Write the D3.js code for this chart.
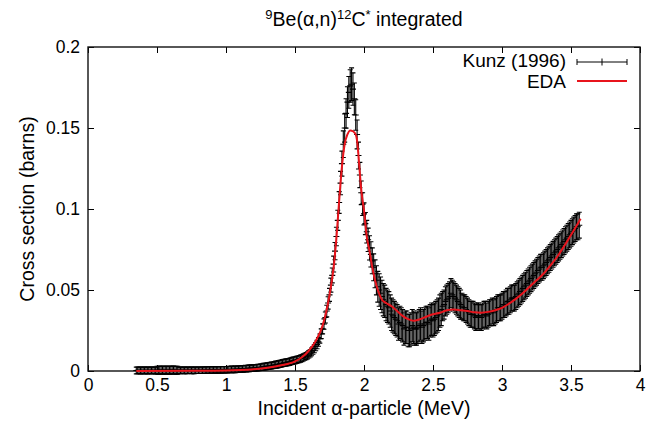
<!DOCTYPE html>
<html>
<head>
<meta charset="UTF-8">
<script src="https://d3js.org/d3.v7.min.js"></script>
<style>
  body { margin: 0; background: #fff; }
  svg { display: block; font-family: "Liberation Sans", Arial, sans-serif; }
</style>
</head>
<body>
<svg width="658" height="428"></svg>
<script>
// Kunz (1996) measurements: energy (MeV), cross section (barns), error (barns)
const kunzE = [
  0.35,0.37,0.39,0.41,0.43,0.45,0.47,0.49,0.51,0.53,0.55,0.57,0.59,0.61,0.63,0.65,
  0.67,0.69,0.71,0.73,0.75,0.77,0.79,0.81,0.83,0.85,0.87,0.89,0.91,0.93,0.95,0.97,0.99,
  1.01,1.03,1.05,1.07,1.09,1.11,1.13,1.15,1.17,1.19,
  1.21,1.23,1.25,1.27,1.29,1.31,1.33,1.35,1.37,1.39,1.41,1.43,1.45,1.47,1.49,
  1.50,1.51,1.52,1.53,1.54,1.55,1.56,1.57,1.58,1.59,
  1.60,1.61,1.62,1.63,1.64,1.65,1.66,1.67,1.68,1.69,
  1.70,1.71,1.72,1.73,1.74,1.75,1.76,1.77,1.78,1.79,
  1.80,1.81,1.82,1.83,1.84,1.85,1.86,1.87,1.88,1.89,
  1.90,1.91,1.92,1.93,1.94,1.95,1.96,1.97,1.98,1.99,
  2.00,2.01,2.02,2.03,2.04,2.05,2.06,2.07,2.08,2.09,2.10,
  2.12,2.14,2.16,2.18,2.20,2.22,2.24,2.26,2.28,2.30,2.32,2.34,2.36,2.38,2.40,2.42,2.44,
  2.46,2.48,2.50,2.52,2.54,2.56,2.58,2.60,2.62,2.64,2.66,2.68,2.70,2.72,2.74,2.76,2.78,
  2.80,2.82,2.84,2.86,2.88,2.90,2.92,2.94,2.96,2.98,3.00,3.02,3.04,3.06,3.08,3.10,3.12,
  3.14,3.16,3.18,3.20,3.22,3.24,3.26,3.28,3.30,3.32,3.34,3.36,3.38,3.40,3.42,3.44,3.46,
  3.48,3.50,3.52,3.54,3.56,
  // interleaved points
  0.36,0.38,0.40,0.42,0.44,0.46,0.48,0.50,0.52,0.54,0.56,0.58,0.60,0.62,0.64,
  0.66,0.68,0.70,0.72,0.74,0.76,0.78,0.80,0.82,0.84,0.86,0.88,0.90,0.92,0.94,0.96,0.98,
  1.00,1.02,1.04,1.06,1.08,1.10,1.12,1.14,1.16,1.18,
  1.20,1.22,1.24,1.26,1.28,1.30,1.32,1.34,1.36,1.38,1.40,1.42,1.44,1.46,1.48,
  2.11,2.13,2.15,2.17,2.19,2.21,2.23,2.25,2.27,2.29,2.31,2.33,2.35,2.37,2.39,2.41,2.43,
  2.45,2.47,2.49,2.51,2.53,2.55,2.57,2.59,2.61,2.63,2.65,2.67,2.69,2.71,2.73,2.75,2.77,
  2.79,2.81,2.83,2.85,2.87,2.89,2.91,2.93,2.95,2.97,2.99,3.01,3.03,3.05,3.07,3.09,3.11,
  3.13,3.15,3.17,3.19,3.21,3.23,3.25,3.27,3.29,3.31,3.33,3.35,3.37,3.39,3.41,3.43,3.45,
  3.47,3.49,3.51,3.53,3.55
];
const kunzXS = [
  0.0003,0.0004,0.0003,0.0004,0.0003,0.0004,0.0004,0.0003,
  0.0005,0.0005,0.0006,0.0005,0.0005,0.0006,0.0005,0.0005,
  0.0004,0.0004,0.0004,0.0005,0.0004,0.0004,0.0005,0.0005,0.0005,0.0005,0.0006,0.0006,0.0006,0.0007,0.0007,0.0007,0.0008,
  0.0008,0.0009,0.0009,0.0010,0.0011,0.0012,0.0013,0.0014,0.0016,0.0017,
  0.0019,0.0021,0.0023,0.0026,0.0028,0.0031,0.0034,0.0037,0.0040,0.0044,0.0048,0.0051,0.0055,0.0060,0.0064,
  0.0066,0.0068,0.0071,0.0074,0.0077,0.0080,0.0084,0.0088,0.0092,0.0097,
  0.0103,0.0110,0.0118,0.0127,0.0138,0.0150,0.0163,0.0180,0.0200,0.0230,
  0.0260,0.0290,0.0330,0.0370,0.0420,0.0470,0.0530,0.0590,0.0660,0.0740,
  0.0830,0.0930,0.1040,0.1160,0.1280,0.1400,0.1500,0.1590,0.1660,0.1720,
  0.1760,0.1770,0.1740,0.1680,0.1580,0.1460,0.1330,0.1210,0.1100,0.1030,
  0.0970,0.0910,0.0860,0.0810,0.0760,0.0720,0.0680,0.0640,0.0600,0.0560,0.0520,
  0.048,0.044,0.041,0.039,0.035,0.033,0.031,0.030,0.028,0.027,0.025,0.026,0.027,0.026,0.028,0.027,0.029,
  0.030,0.031,0.031,0.033,0.035,0.038,0.041,0.044,0.046,0.047,0.045,0.043,0.041,0.039,0.038,0.036,0.035,
  0.034,0.034,0.033,0.034,0.035,0.035,0.036,0.036,0.038,0.039,0.040,0.041,0.043,0.044,0.045,0.046,0.048,
  0.050,0.052,0.054,0.056,0.058,0.060,0.062,0.064,0.065,0.067,0.069,0.071,0.073,0.075,0.077,0.079,0.081,
  0.083,0.085,0.087,0.089,0.090,
  // interleaved points
  0.0004,0.0003,0.0004,0.0003,0.0004,0.0003,0.0004,
  0.0005,0.0006,0.0005,0.0005,0.0006,0.0005,0.0006,0.0005,
  0.0004,0.0005,0.0004,0.0004,0.0005,0.0004,0.0005,0.0005,0.0005,0.0006,0.0006,0.0006,0.0007,0.0007,0.0007,0.0008,0.0008,
  0.0008,0.0009,0.0010,0.0010,0.0011,0.0012,0.0013,0.0015,0.0016,0.0018,
  0.0018,0.0020,0.0022,0.0024,0.0027,0.0030,0.0032,0.0035,0.0039,0.0042,0.0046,0.0050,0.0053,0.0057,0.0062,
  0.050,0.046,0.043,0.040,0.037,0.034,0.032,0.029,0.029,0.026,0.027,0.025,0.028,0.026,0.027,0.029,0.028,
  0.030,0.029,0.032,0.032,0.034,0.037,0.040,0.043,0.045,0.048,0.046,0.044,0.042,0.040,0.039,0.037,0.035,
  0.035,0.033,0.034,0.033,0.035,0.034,0.036,0.037,0.037,0.039,0.039,0.041,0.042,0.043,0.045,0.045,0.047,
  0.049,0.051,0.053,0.055,0.057,0.059,0.061,0.063,0.064,0.066,0.068,0.070,0.072,0.074,0.076,0.078,0.080,
  0.082,0.084,0.086,0.088,0.089
];
const kunzErr = [
  0.0021,0.0021,0.0021,0.0021,0.0021,0.0021,0.0021,0.0021,
  0.0024,0.0024,0.0024,0.0024,0.0024,0.0024,0.0024,0.0024,
  0.0020,0.0020,0.0020,0.0020,0.0020,0.0020,0.0020,0.0020,0.0020,0.0020,0.0020,0.0020,0.0020,0.0020,0.0020,0.0020,0.0020,
  0.0020,0.0020,0.0020,0.0020,0.0020,0.0020,0.0020,0.0020,0.0020,0.0020,
  0.0020,0.0020,0.0020,0.0021,0.0021,0.0021,0.0021,0.0021,0.0022,0.0022,0.0022,0.0022,0.0022,0.0022,0.0022,
  0.0022,0.0022,0.0022,0.0022,0.0022,0.0022,0.0022,0.0022,0.0022,0.0022,
  0.0023,0.0023,0.0024,0.0024,0.0025,0.0025,0.0026,0.0027,0.0028,0.0030,
  0.0031,0.0032,0.0034,0.0036,0.0038,0.0040,0.0043,0.0046,0.0049,0.0053,
  0.0057,0.0062,0.0067,0.0072,0.0077,0.0082,0.0087,0.0091,0.0095,0.0098,
  0.0100,0.0101,0.0100,0.0098,0.0094,0.0089,0.0083,0.0078,0.0073,0.0070,
  0.0068,0.0068,0.0070,0.0072,0.0075,0.0078,0.0080,0.0083,0.0086,0.0090,0.0095,
  0.010,0.010,0.010,0.010,0.010,0.010,0.010,0.010,0.010,0.010,0.010,0.010,0.010,0.010,0.010,0.010,0.010,
  0.010,0.010,0.010,0.010,0.010,0.010,0.009,0.009,0.009,0.009,0.009,0.009,0.009,0.008,0.008,0.008,0.008,
  0.008,0.008,0.008,0.008,0.008,0.008,0.008,0.008,0.008,0.008,0.008,0.008,0.008,0.008,0.008,0.008,0.008,
  0.008,0.008,0.008,0.008,0.008,0.008,0.008,0.008,0.008,0.008,0.008,0.008,0.008,0.008,0.008,0.008,0.008,
  0.008,0.008,0.008,0.008,0.008,
  // interleaved points
  0.0021,0.0021,0.0021,0.0021,0.0021,0.0021,0.0021,
  0.0024,0.0024,0.0024,0.0024,0.0024,0.0024,0.0024,0.0024,
  0.0020,0.0020,0.0020,0.0020,0.0020,0.0020,0.0020,0.0020,0.0020,0.0020,0.0020,0.0020,0.0020,0.0020,0.0020,0.0020,0.0020,
  0.0020,0.0020,0.0020,0.0020,0.0020,0.0020,0.0020,0.0020,0.0020,0.0020,
  0.0020,0.0020,0.0020,0.0021,0.0021,0.0021,0.0021,0.0021,0.0022,0.0022,0.0022,0.0022,0.0022,0.0022,0.0022,
  0.010,0.010,0.010,0.010,0.010,0.010,0.010,0.010,0.010,0.010,0.010,0.010,0.010,0.010,0.010,0.010,0.010,
  0.010,0.010,0.010,0.010,0.010,0.010,0.009,0.009,0.009,0.009,0.009,0.009,0.009,0.008,0.008,0.008,0.008,
  0.008,0.008,0.008,0.008,0.008,0.008,0.008,0.008,0.008,0.008,0.008,0.008,0.008,0.008,0.008,0.008,0.008,
  0.008,0.008,0.008,0.008,0.008,0.008,0.008,0.008,0.008,0.008,0.008,0.008,0.008,0.008,0.008,0.008,0.008,
  0.008,0.008,0.008,0.008,0.008
];

// EDA fit curve
const edaE = [
  0.35,0.80,1.00,1.10,1.20,1.30,1.40,1.50,1.55,1.60,1.65,1.70,1.73,1.76,1.78,1.80,1.82,1.84,
  1.86,1.88,1.90,1.92,1.94,1.95,1.96,1.97,1.98,2.00,2.02,2.04,2.06,2.08,2.10,2.13,2.16,2.20,
  2.24,2.28,2.32,2.36,2.40,2.45,2.50,2.55,2.60,2.65,2.70,2.75,2.80,2.85,2.90,2.95,3.00,3.05,
  3.10,3.15,3.20,3.25,3.30,3.35,3.40,3.45,3.50,3.55,3.57
];
const edaXS = [
  0.0000,0.0001,0.0003,0.0006,0.0011,0.0020,0.0035,0.0060,0.0085,0.0125,0.0185,0.0280,0.0380,0.0520,0.0640,0.0820,0.1050,0.1260,
  0.1400,0.1460,0.1485,0.1480,0.1460,0.1420,0.1330,0.1220,0.1120,0.0990,0.0830,0.0740,0.0640,0.0560,0.0500,0.0440,0.0420,0.0400,
  0.0370,0.0340,0.0320,0.0310,0.0318,0.0335,0.0350,0.0360,0.0375,0.0380,0.0375,0.0370,0.0362,0.0360,0.0365,0.0375,0.0390,0.0415,
  0.0445,0.0480,0.0520,0.0560,0.0600,0.0650,0.0705,0.0770,0.0840,0.0910,0.0940
];

const xTicks = [0, 0.5, 1, 1.5, 2, 2.5, 3, 3.5, 4];
const xTickLabels = ["0", "0.5", "1", "1.5", "2", "2.5", "3", "3.5", "4"];
const yTicks = [0, 0.05, 0.1, 0.15, 0.2];
const yTickLabels = ["0", "0.05", "0.1", "0.15", "0.2"];

const svg = d3.select("svg");
const mLeft = 88, mRight = 640, mTop = 47, mBottom = 371;

const x = d3.scaleLinear().domain([0, 4]).range([mLeft, mRight]);
const y = d3.scaleLinear().domain([0, 0.2]).range([mBottom, mTop]);

// axes (gnuplot style: ticks inward, mirrored)
const gx = svg.append("g").attr("transform", `translate(0,${mBottom})`)
  .call(d3.axisBottom(x).tickValues(xTicks).tickFormat((d, i) => xTickLabels[i])
    .tickSizeInner(-6).tickSizeOuter(0).tickPadding(8));
const gxt = svg.append("g").attr("transform", `translate(0,${mTop})`)
  .call(d3.axisTop(x).tickValues(xTicks).tickFormat("").tickSizeInner(-6).tickSizeOuter(0));
const gy = svg.append("g").attr("transform", `translate(${mLeft},0)`)
  .call(d3.axisLeft(y).tickValues(yTicks).tickFormat((d, i) => yTickLabels[i])
    .tickSizeInner(-6).tickSizeOuter(0).tickPadding(8));
const gyr = svg.append("g").attr("transform", `translate(${mRight},0)`)
  .call(d3.axisRight(y).tickValues(yTicks).tickFormat("").tickSizeInner(-6).tickSizeOuter(0));

[gx, gxt, gy, gyr].forEach(g => {
  g.select(".domain").remove();
  g.attr("font-family", null).attr("font-size", 17.5);
  g.selectAll(".tick line").attr("stroke", "#000").attr("stroke-width", 1);
  g.selectAll(".tick text").attr("fill", "#000");
});

svg.append("rect")
  .attr("x", mLeft).attr("y", mTop)
  .attr("width", mRight - mLeft).attr("height", mBottom - mTop)
  .attr("fill", "none").attr("stroke", "#111").attr("stroke-width", 1.4);

// error bars
const pts = kunzE.map((e, i) => ({ e, v: kunzXS[i], err: kunzErr[i] }));
const cap = 2.5;
const eb = svg.append("g").attr("stroke", "#000").attr("stroke-width", 1.1).attr("fill", "none");
eb.selectAll("path").data(pts).join("path")
  .attr("d", d => {
    const px = x(d.e), y0 = y(d.v - d.err), y1 = y(d.v + d.err), py = y(d.v);
    return `M${px},${y0}V${y1}M${px - cap},${y0}H${px + cap}M${px - cap},${y1}H${px + cap}` +
      `M${px - 3},${py}H${px + 3}`;
  });

// EDA curve
const line = d3.line().x(d => x(d[0])).y(d => y(d[1])).curve(d3.curveMonotoneX);
svg.append("path")
  .datum(edaE.map((e, i) => [e, edaXS[i]]))
  .attr("d", line)
  .attr("fill", "none").attr("stroke", "#e8141c").attr("stroke-width", 2);

// title
const title = svg.append("text")
  .attr("x", (mLeft + mRight) / 2).attr("y", 26)
  .attr("text-anchor", "middle").attr("font-size", 19.5)
  .style("white-space", "pre");
title.append("tspan").attr("font-size", 13).attr("dy", -7).text("9");
title.append("tspan").attr("dy", 7).text("Be(α,n)");
title.append("tspan").attr("font-size", 13).attr("dy", -7).text("12");
title.append("tspan").attr("dy", 7).text("C");
title.append("tspan").attr("font-size", 13).attr("dy", -7).text("*");
title.append("tspan").attr("dy", 7).text(" integrated");

// axis labels
svg.append("text")
  .attr("x", (mLeft + mRight) / 2).attr("y", 415)
  .attr("text-anchor", "middle").attr("font-size", 19.5)
  .text("Incident α-particle (MeV)");
svg.append("text")
  .attr("transform", `translate(34,${(mTop + mBottom) / 2}) rotate(-90)`)
  .attr("text-anchor", "middle").attr("font-size", 19.5)
  .text("Cross section (barns)");

// legend
const lg = svg.append("g").attr("font-size", 19);
lg.append("text").attr("x", 566).attr("y", 67).attr("text-anchor", "end").text("Kunz (1996)");
lg.append("path")
  .attr("d", "M577,62H627M577,59V65M627,59V65M602,58.5V65.5")
  .attr("stroke", "#000").attr("stroke-width", 1).attr("fill", "none");
lg.append("text").attr("x", 566).attr("y", 88).attr("text-anchor", "end").text("EDA");
lg.append("path")
  .attr("d", "M577,81H627")
  .attr("stroke", "#e8141c").attr("stroke-width", 2).attr("fill", "none");
</script>
</body>
</html>
